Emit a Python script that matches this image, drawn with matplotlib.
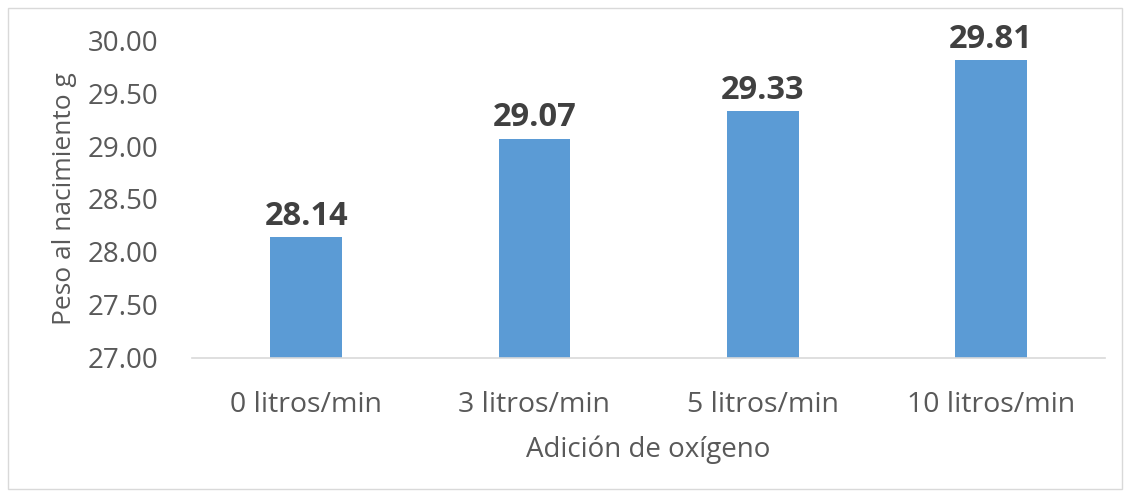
import matplotlib.pyplot as plt
from matplotlib.patches import Rectangle

categories = ['0 litros/min', '3 litros/min', '5 litros/min', '10 litros/min']
peso = [28.14, 29.07, 29.33, 29.81]
yticks = [27.00, 27.50, 28.00, 28.50, 29.00, 29.50, 30.00]

plt.rcParams['font.family'] = ['Open Sans', 'DejaVu Sans']

fig = plt.figure(figsize=(11.3, 4.97), dpi=100)
ax = fig.add_axes([0.170, 0.2797, 0.808, 0.6398])

x = range(len(categories))
ax.bar(x, peso, width=0.315, color='#5B9BD5', zorder=2)

for xi, v in zip(x, peso):
    ax.text(xi, v + 0.04, f'{v:.2f}', ha='center', va='bottom',
            fontsize=23.5, fontweight='bold', color='#404040')

ax.set_ylim(27, 30)
ax.set_xlim(-0.5, len(categories) - 0.5)
ax.set_yticks(yticks)
ax.set_yticklabels([f'{t:.2f}' for t in yticks])
ax.set_xticks(list(x))
ax.set_xticklabels(categories)
ax.tick_params(axis='both', length=0, colors='#595959')
ax.tick_params(axis='x', pad=24, labelsize=20.5)
ax.tick_params(axis='y', pad=24, labelsize=20)

for s in ['top', 'right', 'left']:
    ax.spines[s].set_visible(False)
ax.spines['bottom'].set_color('#D9D9D9')
ax.spines['bottom'].set_linewidth(1.2)

ax.set_xlabel('Adición de oxígeno', fontsize=20, color='#595959')
ax.set_ylabel('Peso al nacimiento g', fontsize=19, color='#595959')
ax.xaxis.set_label_coords(0.5, -0.245)
ax.yaxis.set_label_coords(-0.126, 0.5)

fig.patches.append(Rectangle((0.007, 0.016), 0.986, 0.968, transform=fig.transFigure,
                             fill=False, edgecolor='#D9D9D9', linewidth=1))

fig.savefig('out.png', dpi=100)
